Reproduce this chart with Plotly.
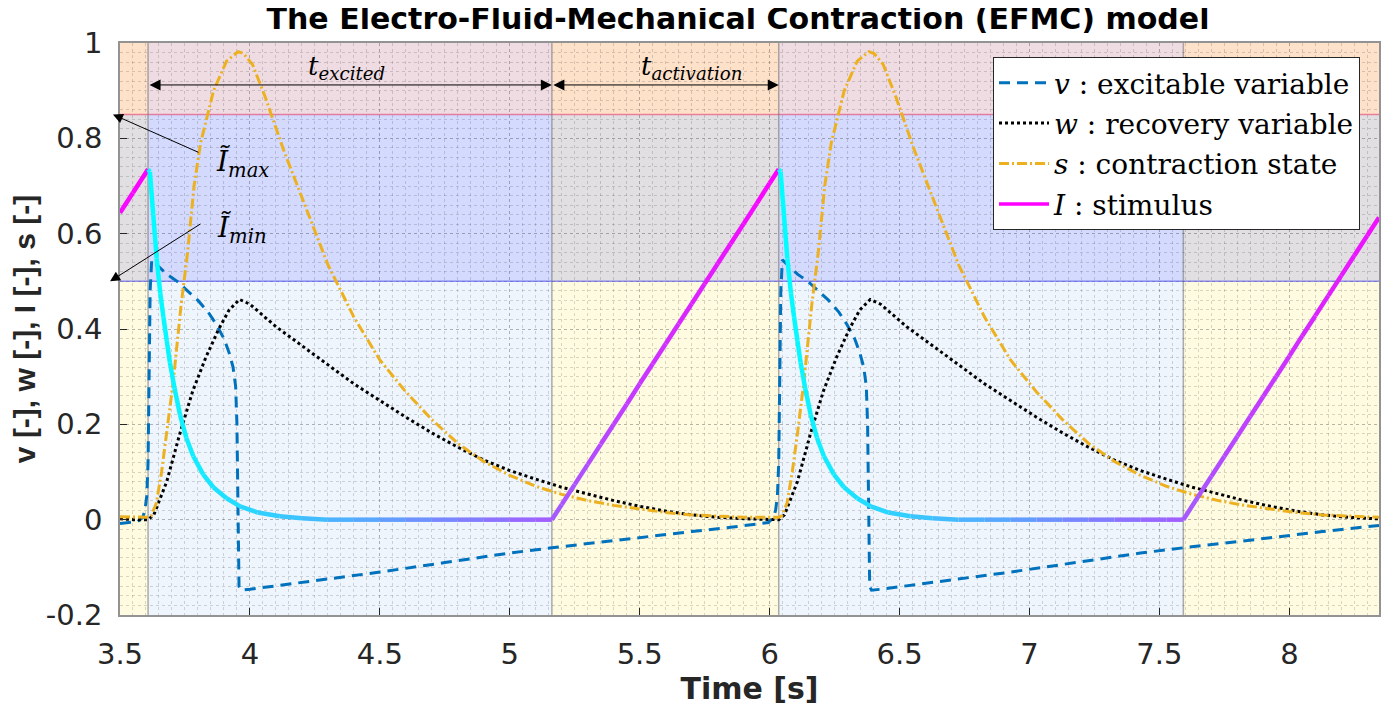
import plotly.graph_objects as go

# ---------------- data ----------------
t_v = [3.50, 3.55, 3.568, 3.588, 3.596, 3.603, 3.608, 3.612, 3.616, 3.622, 3.64, 3.68, 3.72, 3.76, 3.80,
       3.84, 3.87, 3.90, 3.92, 3.935, 3.945, 3.950, 3.954, 3.958, 3.965, 4.0, 4.25, 4.5, 4.75, 5.0,
       5.162, 5.3, 5.5, 5.7, 5.85, 5.95, 5.995, 6.015, 6.023, 6.030, 6.035, 6.039, 6.043, 6.049,
       6.067, 6.107, 6.147, 6.187, 6.227, 6.267, 6.297, 6.327, 6.347, 6.362, 6.372, 6.377, 6.381,
       6.385, 6.392, 6.427, 6.677, 6.927, 7.177, 7.427, 7.592, 7.727, 7.927, 8.127, 8.277, 8.345]
v = [-0.008, -0.005, -0.004, 0.005, 0.02, 0.05, 0.12, 0.30, 0.48, 0.545, 0.535, 0.515, 0.50, 0.48, 0.46,
     0.435, 0.41, 0.38, 0.35, 0.32, 0.28, 0.20, 0.0, -0.14, -0.148, -0.146, -0.128, -0.110, -0.090, -0.070,
     -0.059, -0.050, -0.038, -0.025, -0.016, -0.010, -0.006, 0.005, 0.02, 0.05, 0.12, 0.30, 0.48, 0.545,
     0.535, 0.515, 0.50, 0.48, 0.46, 0.435, 0.41, 0.38, 0.35, 0.32, 0.28, 0.20, 0.0,
     -0.14, -0.148, -0.146, -0.128, -0.110, -0.090, -0.070, -0.059, -0.050, -0.038, -0.025, -0.016, -0.012]

t_w = [3.50, 3.55, 3.608, 3.63, 3.68, 3.73, 3.78, 3.83, 3.88, 3.92, 3.96, 4.0, 4.1, 4.2, 4.3, 4.4, 4.5,
       4.6, 4.7, 4.8, 4.9, 5.0, 5.1, 5.2, 5.3, 5.4, 5.5, 5.6, 5.7, 5.8, 5.9, 6.035, 6.057, 6.107, 6.157,
       6.207, 6.257, 6.307, 6.347, 6.387, 6.427, 6.527, 6.627, 6.727, 6.827, 6.927, 7.027, 7.127, 7.227,
       7.327, 7.427, 7.527, 7.627, 7.727, 7.827, 7.927, 8.027, 8.127, 8.227, 8.327, 8.345]
w = [0.002, 0.0, 0.0, 0.01, 0.08, 0.18, 0.27, 0.34, 0.40, 0.44, 0.462, 0.452, 0.405, 0.365, 0.325, 0.285,
     0.25, 0.215, 0.182, 0.152, 0.125, 0.103, 0.085, 0.068, 0.054, 0.040, 0.028, 0.018, 0.010, 0.005,
     0.002, 0.0, 0.01, 0.08, 0.18, 0.27, 0.34, 0.40, 0.44, 0.462, 0.452, 0.405, 0.365, 0.325, 0.285, 0.25,
     0.215, 0.182, 0.152, 0.125, 0.103, 0.085, 0.068, 0.054, 0.040, 0.028, 0.018, 0.010, 0.005, 0.002, 0.002]

t_s = [3.50, 3.608, 3.62, 3.64, 3.66, 3.68, 3.705, 3.735, 3.76, 3.785, 3.81, 3.86, 3.91, 3.955, 3.975,
       4.01, 4.06, 4.13, 4.2, 4.3, 4.4, 4.5, 4.6, 4.7, 4.8, 4.9, 5.0, 5.1, 5.2, 5.3, 5.4, 5.5, 5.6, 5.7,
       5.8, 5.9, 6.035, 6.047, 6.067, 6.087, 6.107, 6.132, 6.162, 6.187, 6.212, 6.237, 6.287, 6.337, 6.382,
       6.402, 6.437, 6.487, 6.557, 6.627, 6.727, 6.827, 6.927, 7.027, 7.127, 7.227, 7.327, 7.427, 7.527,
       7.627, 7.727, 7.827, 7.927, 8.027, 8.127, 8.227, 8.327, 8.345]
s = [0.006, 0.005, 0.008, 0.035, 0.10, 0.18, 0.29, 0.45, 0.56, 0.70, 0.79, 0.90, 0.962, 0.982, 0.978,
     0.955, 0.885, 0.775, 0.675, 0.535, 0.425, 0.335, 0.268, 0.210, 0.160, 0.122, 0.093, 0.070, 0.053,
     0.040, 0.030, 0.022, 0.015, 0.010, 0.007, 0.005, 0.005, 0.008, 0.035, 0.10, 0.18, 0.29, 0.45, 0.56,
     0.70, 0.79, 0.90, 0.962, 0.982, 0.978, 0.955, 0.885, 0.775, 0.675, 0.535, 0.425, 0.335, 0.268,
     0.210, 0.160, 0.122, 0.093, 0.070, 0.053, 0.040, 0.030, 0.022, 0.015, 0.010, 0.007, 0.005, 0.005]

t_I = [3.50, 3.55, 3.608, 3.615, 3.628, 3.641, 3.655, 3.667, 3.68, 3.692, 3.71, 3.731, 3.755, 3.782, 3.82,
       3.859, 3.91, 3.962, 4.03, 4.115, 4.2, 4.3, 4.4, 4.5, 4.6, 4.7, 4.8, 4.9, 5.0, 5.1, 5.162,
       5.2, 5.25, 5.3, 5.35, 5.4, 5.45, 5.5, 5.55, 5.6, 5.65, 5.7, 5.75, 5.8, 5.85, 5.9, 5.95, 6.0, 6.035,
       6.042, 6.055, 6.068, 6.082, 6.094, 6.107, 6.119, 6.137, 6.158, 6.182, 6.209, 6.247, 6.286, 6.337,
       6.389, 6.457, 6.542, 6.627, 6.727, 6.827, 6.927, 7.027, 7.127, 7.227, 7.327, 7.427, 7.527, 7.592,
       7.65, 7.7, 7.75, 7.8, 7.85, 7.9, 7.95, 8.0, 8.05, 8.1, 8.15, 8.2, 8.25, 8.3, 8.345]
I = [0.644, 0.686, 0.735, 0.73, 0.64, 0.548, 0.475, 0.425, 0.375, 0.33, 0.275, 0.22, 0.172, 0.133, 0.095,
     0.068, 0.045, 0.028, 0.015, 0.007, 0.003, 0.0, 0.0, 0.0, 0.0, 0.0, 0.0, 0.0, 0.0, 0.0, 0.0,
     0.032, 0.074, 0.116, 0.158, 0.200, 0.242, 0.285, 0.327, 0.369, 0.411, 0.453, 0.495, 0.537, 0.579,
     0.621, 0.663, 0.706, 0.735,
     0.73, 0.64, 0.548, 0.475, 0.425, 0.375, 0.33, 0.275, 0.22, 0.172, 0.133, 0.095, 0.068, 0.045,
     0.028, 0.015, 0.007, 0.003, 0.0, 0.0, 0.0, 0.0, 0.0, 0.0, 0.0, 0.0, 0.0, 0.0,
     0.049, 0.091, 0.133, 0.175, 0.217, 0.259, 0.301, 0.343, 0.386, 0.428, 0.470, 0.512, 0.554, 0.596, 0.634]

excite_starts = [3.608, 6.035]
activation_starts = [5.162, 7.592]
I_max_level = 0.85
I_min_level = 0.5
x_range = [3.5, 8.345]
y_range = [-0.2, 1.0]
x_ticks = [3.5, 4, 4.5, 5, 5.5, 6, 6.5, 7, 7.5, 8]
x_tick_labels = ["3.5", "4", "4.5", "5", "5.5", "6", "6.5", "7", "7.5", "8"]
y_ticks = [-0.2, 0, 0.2, 0.4, 0.6, 0.8, 1.0]
y_tick_labels = ["-0.2", "0", "0.2", "0.4", "0.6", "0.8", "1"]

# ---------------- styling ----------------
FONT = "DejaVu Sans"
FONT_NARROW = "Liberation Sans"
SERIF = "DejaVu Serif"
TXT = "#262626"
C_V = "#0072BD"
C_W = "#000000"
C_S = "#EDB120"
C_EXC = "#eef5fd"
C_ACT = "#fefbe0"

# the page body adds an 8px offset; the figure is sized to fit inside the window
W, H = 1387, 708

fig = go.Figure()

# background bands
shapes = []
period = excite_starts[1] - excite_starts[0]
bounds = [x_range[0]] + sorted(excite_starts + activation_starts) + [x_range[1]]
for i in range(len(bounds) - 1):
    a, b = bounds[i], bounds[i + 1]
    col = C_EXC if a in excite_starts else C_ACT
    shapes.append(dict(type="rect", xref="x", yref="y", x0=a, x1=b, y0=y_range[0], y1=y_range[1],
                       fillcolor=col, line=dict(width=0), layer="below"))
shapes.append(dict(type="rect", xref="x", yref="y", x0=x_range[0], x1=x_range[1], y0=I_max_level,
                   y1=y_range[1], fillcolor="rgba(255,0,0,0.1)", line=dict(width=0), layer="below"))
shapes.append(dict(type="rect", xref="x", yref="y", x0=x_range[0], x1=x_range[1], y0=I_min_level,
                   y1=I_max_level, fillcolor="rgba(0,0,255,0.11)", line=dict(width=0), layer="below"))
shapes.append(dict(type="line", xref="x", yref="y", x0=x_range[0], x1=x_range[1], y0=I_max_level,
                   y1=I_max_level, line=dict(color="rgba(230,60,110,0.6)", width=1.5), layer="below"))
shapes.append(dict(type="line", xref="x", yref="y", x0=x_range[0], x1=x_range[1], y0=I_min_level,
                   y1=I_min_level, line=dict(color="rgba(60,60,240,0.55)", width=1.5), layer="below"))
for xv in excite_starts + activation_starts:
    shapes.append(dict(type="line", xref="x", yref="y", x0=xv, x1=xv, y0=y_range[0], y1=y_range[1],
                       line=dict(color="rgba(120,120,120,0.6)", width=1.5), layer="below"))

# curves
fig.add_trace(go.Scatter(x=t_v, y=v, mode="lines", name="<i>v</i> : excitable variable", legendgroup="v",
                         line=dict(color=C_V, width=3, dash="11px,7px")))
fig.add_trace(go.Scatter(x=t_w, y=w, mode="lines", name="<i>w</i> : recovery variable", legendgroup="w",
                         line=dict(color=C_W, width=3, dash="dot")))
fig.add_trace(go.Scatter(x=t_s, y=s, mode="lines", name="<i>s</i> : contraction state", legendgroup="s",
                         line=dict(color=C_S, width=3, dash="10px,3px,2px,3px")))
fig.add_trace(go.Scatter(x=[None], y=[None], mode="lines", name="<i>I</i> : stimulus", legendgroup="I",
                         line=dict(color="#ff00ff", width=3.5)))


def phase(t):
    starts = [excite_starts[0] - period] + excite_starts
    st = max(x for x in starts if x <= t)
    return min(max((t - st) / period, 0.0), 1.0)


for i in range(len(t_I) - 1):
    f = phase(0.5 * (t_I[i] + t_I[i + 1]))
    col = "rgb(%d,%d,255)" % (round(255 * f), round(255 * (1 - f)))
    fig.add_trace(go.Scatter(x=t_I[i:i + 2], y=I[i:i + 2], mode="lines", showlegend=False,
                             legendgroup="I", hoverinfo="skip", line=dict(color=col, width=4.5)))

ann = []
y_arrow = 0.912
ann.append(dict(x=activation_starts[0], y=y_arrow, ax=excite_starts[0], ay=y_arrow, xref="x", yref="y",
                axref="x", ayref="y", text="", showarrow=True, arrowhead=2, arrowsize=2.2,
                arrowwidth=1, arrowside="end+start", arrowcolor="black"))
ann.append(dict(x=excite_starts[1], y=y_arrow, ax=activation_starts[0], ay=y_arrow, xref="x", yref="y",
                axref="x", ayref="y", text="", showarrow=True, arrowhead=2, arrowsize=2.2,
                arrowwidth=1, arrowside="end+start", arrowcolor="black"))
ann.append(dict(x=4.37, y=0.948, xref="x", yref="y", showarrow=False,
                text="<i>t</i><sub><i>excited</i></sub>", font=dict(family=SERIF, size=26, color="black")))
ann.append(dict(x=5.70, y=0.948, xref="x", yref="y", showarrow=False,
                text="<i>t</i><sub><i>activation</i></sub>", font=dict(family=SERIF, size=26, color="black")))
ann.append(dict(x=3.97, y=0.748, xref="x", yref="y", showarrow=False,
                text="<i>Ĩ</i><sub><i>max</i></sub>", font=dict(family=SERIF, size=28, color="black")))
ann.append(dict(x=3.97, y=0.608, xref="x", yref="y", showarrow=False,
                text="<i>Ĩ</i><sub><i>min</i></sub>", font=dict(family=SERIF, size=28, color="black")))
# arrows pointing at the threshold levels (axis-domain fractions)
ann.append(dict(x=-0.0056, y=(I_max_level - y_range[0]) / (y_range[1] - y_range[0]),
                ax=0.0635, ay=0.8077, xref="x domain", yref="y domain", axref="x domain", ayref="y domain",
                text="", showarrow=True, arrowhead=2, arrowsize=2, arrowwidth=1, arrowcolor="black"))
ann.append(dict(x=-0.0079, y=(I_min_level - y_range[0]) / (y_range[1] - y_range[0]),
                ax=0.0651, ay=0.6853, xref="x domain", yref="y domain", axref="x domain", ayref="y domain",
                text="", showarrow=True, arrowhead=2, arrowsize=2, arrowwidth=1, arrowcolor="black"))

grid_col = "rgba(0,0,0,0.15)"
fig.update_layout(
    width=W, height=H,
    margin=dict(l=112, r=16, t=35, b=101),
    paper_bgcolor="white", plot_bgcolor="white",
    shapes=shapes, annotations=ann,
    title=dict(text="<b>The Electro-Fluid-Mechanical Contraction (EFMC) model</b>",
               x=730 / W, xref="container", xanchor="center",
               y=1.0, yref="container", yanchor="top", pad=dict(t=0, b=0),
               font=dict(family=FONT, size=30, color="black")),
    legend=dict(x=(993 - 120) / 1259, y=(615 - 57) / 572, xanchor="left", yanchor="top",
                bgcolor="white", bordercolor=TXT, borderwidth=1,
                font=dict(family=SERIF, size=28, color="black"), tracegroupgap=1,
                itemwidth=50),
    showlegend=True,
    xaxis=dict(range=x_range, tickvals=x_ticks, ticktext=x_tick_labels, ticks="inside", ticklen=7,
               tickcolor=TXT, tickwidth=1, showline=True, linecolor="rgba(120,120,120,0.8)",
               linewidth=1.5, mirror=True, zeroline=False, automargin=False,
               showgrid=True, gridcolor=grid_col, griddash="dot", gridwidth=1,
               minor=dict(dtick=0.05, showgrid=True, gridcolor=grid_col, griddash="dot", gridwidth=1),
               tickfont=dict(family=FONT, size=29, color=TXT), ticklabelstandoff=12,
               title=dict(text="<b>Time [s]</b>", font=dict(family=FONT, size=30, color=TXT), standoff=8)),
    yaxis=dict(range=y_range, tickvals=y_ticks, ticktext=y_tick_labels, ticks="inside", ticklen=7,
               tickcolor=TXT, tickwidth=1, showline=True, linecolor="rgba(120,120,120,0.8)",
               linewidth=1.5, mirror=True, zeroline=False, automargin=False,
               showgrid=True, gridcolor=grid_col, griddash="dot", gridwidth=1,
               minor=dict(dtick=0.02, showgrid=True, gridcolor=grid_col, griddash="dot", gridwidth=1),
               tickfont=dict(family=FONT, size=29, color=TXT), ticklabelstandoff=10,
               title=dict(text="<b>v [-], w [-], I [-], s [-]</b>",
                          font=dict(family=FONT_NARROW, size=30, color=TXT), standoff=2)),
)

fig.write_html("out.html")
